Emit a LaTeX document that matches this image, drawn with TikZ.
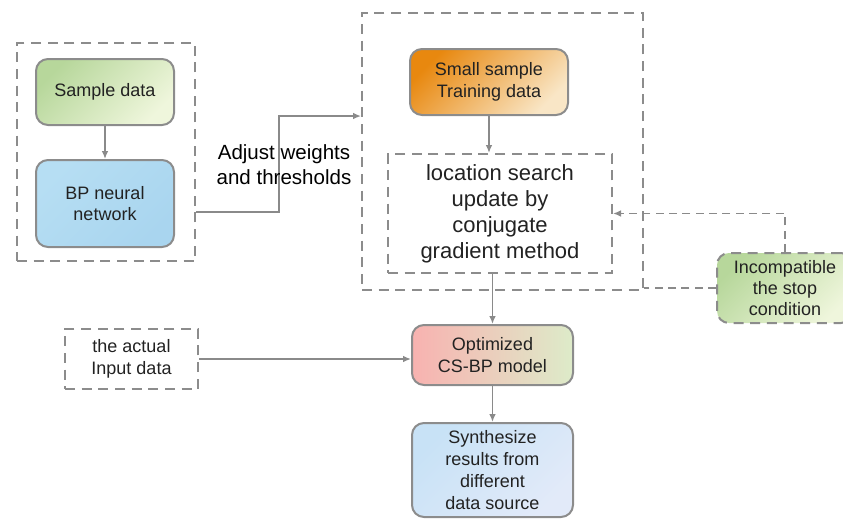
\documentclass[tikz,border=0pt]{standalone}
\usepackage{fontspec}
\setmainfont{Liberation Sans}
\usetikzlibrary{arrows.meta,positioning,calc}

\definecolor{boxgray}{HTML}{8C8C8C}
\definecolor{linegray}{HTML}{8A8A8A}
\definecolor{txtgray}{HTML}{222222}
\definecolor{greenA}{HTML}{B7D79B}
\definecolor{greenB}{HTML}{EFF6DC}
\definecolor{blueA}{HTML}{B6DEF3}
\definecolor{blueB}{HTML}{A9D5EF}
\definecolor{orangeA}{HTML}{E8880F}
\definecolor{orangeM}{HTML}{EEB257}
\definecolor{orangeB}{HTML}{F9E6C6}
\definecolor{pinkA}{HTML}{F8B2B0}
\definecolor{pinkB}{HTML}{DDEBC9}
\definecolor{paleA}{HTML}{C8E2F6}
\definecolor{paleB}{HTML}{E2EAF9}

\begin{document}
\begin{tikzpicture}[x=0.75pt, y=-0.75pt, >={Latex[length=6pt,width=5pt]}, font=\fontsize{13.5}{16}\selectfont]
    \tikzstyle{box} = [rectangle, rounded corners=9pt, draw=boxgray, line width=1.5pt, align=center, text=txtgray]
    \tikzstyle{group} = [rectangle, draw=boxgray, line width=1.5pt, dash pattern=on 7.5pt off 5pt, align=center, text=txtgray]
    \tikzstyle{arrow} = [draw=linegray, line width=1.1pt, ->]
    \tikzstyle{dasharrow} = [arrow, dash pattern=on 6pt off 4pt]

    \clip (0,0) rectangle (843,519);

    % left part
    \node (leftgrp) [group, minimum width=133.5pt, minimum height=163.5pt] at (106,152) {};
    \node (sample) [box, minimum width=103.5pt, minimum height=49.5pt, left color=greenA, right color=greenB, shading angle=45] at (105,92) {Sample data};
    \node (bp) [box, minimum width=103.5pt, minimum height=65.25pt, left color=blueA, right color=blueB, shading angle=45] at (105,203.5) {BP neural\\network};

    % right part
    \node (rightgrp) [group, minimum width=210.75pt, minimum height=207.75pt] at (502.5,151.5) {};
    \node (small) [box, minimum width=118.5pt, minimum height=49.5pt, left color=orangeA, middle color=orangeM, right color=orangeB, shading angle=45] at (489,82) {Small sample\\Training data};
    \node (search) [group, minimum width=168pt, minimum height=89.25pt, font=\fontsize{16.5}{19.5}\selectfont] at (500,213.5) {location search\\update by\\conjugate\\gradient method};
    \node (stopc) [box, dash pattern=on 7.5pt off 5pt, minimum width=102pt, minimum height=52.5pt, left color=greenA, right color=greenB, shading angle=45] at (785,288) {Incompatible\\the stop\\condition};

    % bottom part
    \node (input) [group, minimum width=99.75pt, minimum height=45pt] at (131.5,359) {the actual\\Input data};
    \node (opt) [box, minimum width=120.75pt, minimum height=45pt, left color=pinkA, right color=pinkB] at (492.5,355) {Optimized\\CS-BP model};
    \node (synth) [box, minimum width=120.75pt, minimum height=70.5pt, left color=paleA, right color=paleB, shading angle=45, font=\fontsize{13.5}{16.5}\selectfont] at (492.5,470) {Synthesize\\results from\\different\\data source};

    \draw [arrow] (sample) -- (bp);
    \draw [arrow] ([yshift=-6.4pt]bp.east -| leftgrp.east) -- ++(83,0) |- ([yshift=26.6pt]rightgrp.west);
    \node (adjust) [align=center, text=black, font=\fontsize{15.4}{18.75}\selectfont] at (284,165) {Adjust weights\\and thresholds};

    \draw [arrow] (small.south) -- (small.south |- search.north);
    \draw [arrow] (opt.north |- search.south) -- (opt.north);
    \draw [dasharrow] (stopc.north) |- (search.east);
    \draw [draw=linegray, line width=1.1pt, dash pattern=on 6pt off 4pt] (stopc.west) -- (stopc.west -| rightgrp.east);

    \draw [arrow] (input.east) -- (input.east -| opt.west);
    \draw [arrow] (opt) -- (synth);
\end{tikzpicture}
\end{document}
